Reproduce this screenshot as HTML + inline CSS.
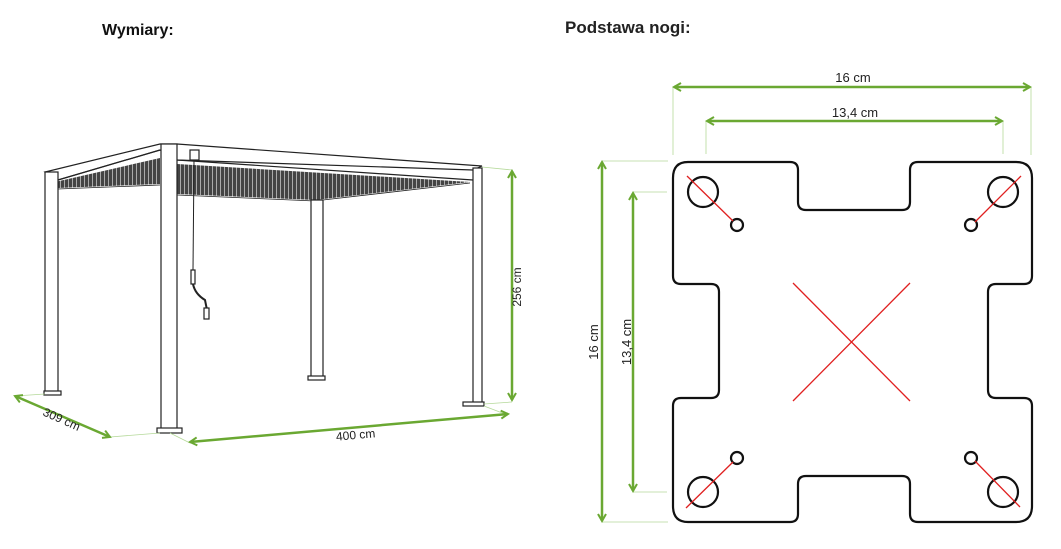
<!DOCTYPE html>
<html><head><meta charset="utf-8"><style>
body{margin:0;background:#fff;width:1061px;height:544px;overflow:hidden;font-family:"Liberation Sans",sans-serif}
</style></head><body>
<svg width="1061" height="544" viewBox="0 0 1061 544" xmlns="http://www.w3.org/2000/svg" font-family="Liberation Sans, sans-serif">
<defs>
<marker id="a" viewBox="0 0 10 10" refX="8" refY="5" markerWidth="4" markerHeight="4" orient="auto-start-reverse"><path d="M1,1 L8,5 L1,9" fill="none" stroke="#6aa832" stroke-width="2"/></marker>
<pattern id="st" width="4" height="4" patternUnits="userSpaceOnUse"><rect width="4" height="4" fill="#444"/><rect width="1" height="4" fill="#aaa"/></pattern>
</defs>
<text x="102" y="35" font-size="16" font-weight="bold" fill="#111">Wymiary:</text>
<text x="565" y="33" font-size="17" font-weight="bold" fill="#222">Podstawa nogi:</text>

<!-- pergola -->
<g stroke="#222" stroke-width="1.2" fill="#fff">
<polygon points="55,182 160,158 160,184 58,188" fill="url(#st)" stroke="none"/>
<polygon points="177,164 470,182 315,200 177,194" fill="url(#st)" stroke="none"/>
<polygon points="160,144 177,144 482,166 473,170 177,160 160,150 58,180 45,172" fill="#fff"/>
<line x1="58" y1="180" x2="160" y2="150"/>
<line x1="177" y1="160" x2="473" y2="180"/>
<line x1="58" y1="189" x2="160" y2="185" stroke-width="0.8"/>
<line x1="177" y1="195" x2="315" y2="201" stroke-width="0.8"/>
<line x1="323" y1="200" x2="470" y2="183" stroke-width="0.8"/>
<rect x="45" y="172" width="13" height="220"/><rect x="44" y="391" width="17" height="4"/>
<rect x="311" y="200" width="12" height="178"/><rect x="308" y="376" width="17" height="4"/>
<rect x="473" y="168" width="9" height="236"/><rect x="463" y="402" width="21" height="4"/>
<rect x="161" y="144" width="16" height="285"/><rect x="157" y="428" width="25" height="5"/>
<rect x="190" y="150" width="9" height="10"/>
<line x1="194" y1="160" x2="193" y2="270" stroke-width="1"/>
<rect x="191" y="270" width="4" height="14"/>
<path d="M193,284 Q195,294 205,300 L207,310" fill="none" stroke-width="2"/>
<rect x="204" y="308" width="5" height="11"/>
</g>
<g stroke="#b5d99a" stroke-width="0.8">
<line x1="482" y1="167" x2="512" y2="170"/><line x1="484" y1="404" x2="512" y2="402"/>
<line x1="15" y1="396" x2="45" y2="394"/><line x1="110" y1="437" x2="160" y2="433"/>
<line x1="170" y1="433" x2="190" y2="443"/><line x1="484" y1="406" x2="505" y2="414"/>
</g>
<g stroke="#6aa832" stroke-width="2.5" marker-start="url(#a)" marker-end="url(#a)">
<line x1="512" y1="171" x2="512" y2="400"/>
<line x1="190" y1="442" x2="508" y2="414"/>
<line x1="15" y1="396" x2="110" y2="437"/>
</g>
<text font-size="12" fill="#222" transform="translate(521,287) rotate(-90)" text-anchor="middle">256 cm</text>
<text font-size="12" fill="#222" transform="translate(356,439) rotate(-5)" text-anchor="middle">400 cm</text>
<text font-size="12" fill="#222" transform="translate(60,423) rotate(24)" text-anchor="middle">309 cm</text>

<!-- plate -->
<g stroke="#b5d99a" stroke-width="0.8">
<line x1="673" y1="87" x2="673" y2="155"/><line x1="1031" y1="87" x2="1031" y2="155"/>
<line x1="706" y1="121" x2="706" y2="154"/><line x1="1003" y1="121" x2="1003" y2="154"/>
<line x1="602" y1="161" x2="668" y2="161"/><line x1="602" y1="522" x2="668" y2="522"/>
<line x1="633" y1="192" x2="667" y2="192"/><line x1="633" y1="492" x2="667" y2="492"/>
</g>
<g stroke="#6aa832" stroke-width="2.5" marker-start="url(#a)" marker-end="url(#a)">
<line x1="674" y1="87" x2="1030" y2="87"/>
<line x1="707" y1="121" x2="1002" y2="121"/>
<line x1="602" y1="162" x2="602" y2="521"/>
<line x1="633" y1="193" x2="633" y2="491"/>
</g>
<text x="853" y="82" font-size="13" fill="#222" text-anchor="middle">16 cm</text>
<text x="855" y="117" font-size="13" fill="#222" text-anchor="middle">13,4 cm</text>
<text font-size="13" fill="#222" transform="translate(598,342) rotate(-90)" text-anchor="middle">16 cm</text>
<text font-size="13" fill="#222" transform="translate(631,342) rotate(-90)" text-anchor="middle">13,4 cm</text>

<path d="M688,162 H790 Q798,162 798,170 V202 Q798,210 806,210 H902 Q910,210 910,202 V170 Q910,162 918,162 H1016 Q1032,162 1032,178 V276 Q1032,284 1024,284 H996 Q988,284 988,292 V390 Q988,398 996,398 H1024 Q1032,398 1032,406 V506 Q1032,522 1016,522 H918 Q910,522 910,514 V484 Q910,476 902,476 H806 Q798,476 798,484 V514 Q798,522 790,522 H688 Q673,522 673,506 V406 Q673,398 681,398 H711 Q719,398 719,390 V292 Q719,284 711,284 H681 Q673,284 673,276 V178 Q673,162 688,162 Z" fill="none" stroke="#111" stroke-width="2.2"/>
<g fill="none" stroke="#111" stroke-width="2.2">
<circle cx="703" cy="192" r="15"/><circle cx="1003" cy="192" r="15"/>
<circle cx="703" cy="492" r="15"/><circle cx="1003" cy="492" r="15"/>
<circle cx="737" cy="225" r="6"/><circle cx="971" cy="225" r="6"/>
<circle cx="737" cy="458" r="6"/><circle cx="971" cy="458" r="6"/>
</g>
<g stroke="#e02020" stroke-width="1.3">
<line x1="793" y1="283" x2="910" y2="401"/><line x1="910" y1="283" x2="793" y2="401"/>
<line x1="687" y1="176" x2="733" y2="221"/><line x1="1021" y1="176" x2="975" y2="222"/>
<line x1="686" y1="508" x2="733" y2="462"/><line x1="975" y1="461" x2="1020" y2="507"/>
</g>
</svg>
</body></html>
